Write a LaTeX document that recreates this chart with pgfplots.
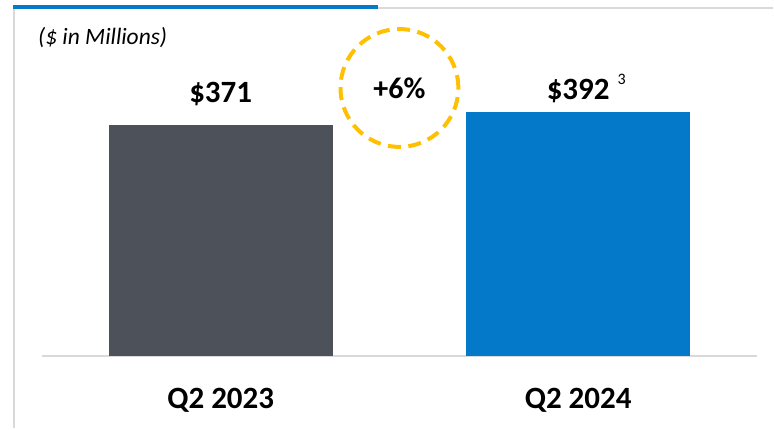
\documentclass[border=0pt]{standalone}
\usepackage{fontspec}
\setmainfont{Carlito}
\usepackage{pgfplots}
\pgfplotsset{compat=1.18}
\definecolor{bargray}{HTML}{4D5159}
\definecolor{barblue}{HTML}{0479CA}
\definecolor{gold}{HTML}{FFC000}
\definecolor{rulegray}{HTML}{D9D9D9}

\begin{document}
\begin{tikzpicture}
\begin{axis}[
    scale only axis, width=716pt, height=348pt,
    xmin=-0.5, xmax=1.5, ymin=0, ymax=556.5,
    axis x line=bottom, axis y line=none,
    axis line style={-, draw=rulegray, line width=2pt},
    ytick=\empty, xtick={0,1}, xticklabels={Q2 2023, Q2 2024},
    major tick length=0pt,
    xticklabel style={font=\fontsize{31}{36}\selectfont\bfseries, anchor=base, yshift=-52pt},
    ybar, bar width=224pt, bar shift=0pt,
    nodes near coords, point meta=explicit symbolic,
    nodes near coords style={font=\fontsize{31}{36}\selectfont\bfseries, anchor=base, inner sep=0pt},
    clip=false,
]
\addplot[fill=bargray, draw=none, nodes near coords style={yshift=22pt}]
    coordinates {(0,371) [\$371]};
\addplot[fill=barblue, draw=none, nodes near coords style={yshift=12.5pt}]
    coordinates {(1,392) [\$392\rlap{\hspace{8pt}\raisebox{14.5pt}{\fontsize{16}{18}\selectfont\mdseries 3}}]};

% growth badge
\draw[gold, line width=4pt, dash pattern=on 13pt off 7.5pt] (axis cs:0.5,430) circle[radius=59pt];
\node[font=\fontsize{30}{34}\selectfont\bfseries] at (axis cs:0.5,430) {+6\%};
\end{axis}

\begin{scope}[shift={(current axis.south west)}, x=1pt, y=1pt]
\draw[line width=2pt, rulegray] (-28,-72) -- (-28,352);
\draw[line width=2.3pt, rulegray] (337,349) -- (732,349);
\draw[line width=4pt, barblue] (-29,350) -- (337,350);
\node[anchor=base west, inner sep=0pt, font=\fontsize{23.5}{27}\selectfont\itshape] at (-4,312) {(\$ in Millions)};
\path (-42,-72) rectangle (732,357);
\end{scope}
\end{tikzpicture}
\end{document}
